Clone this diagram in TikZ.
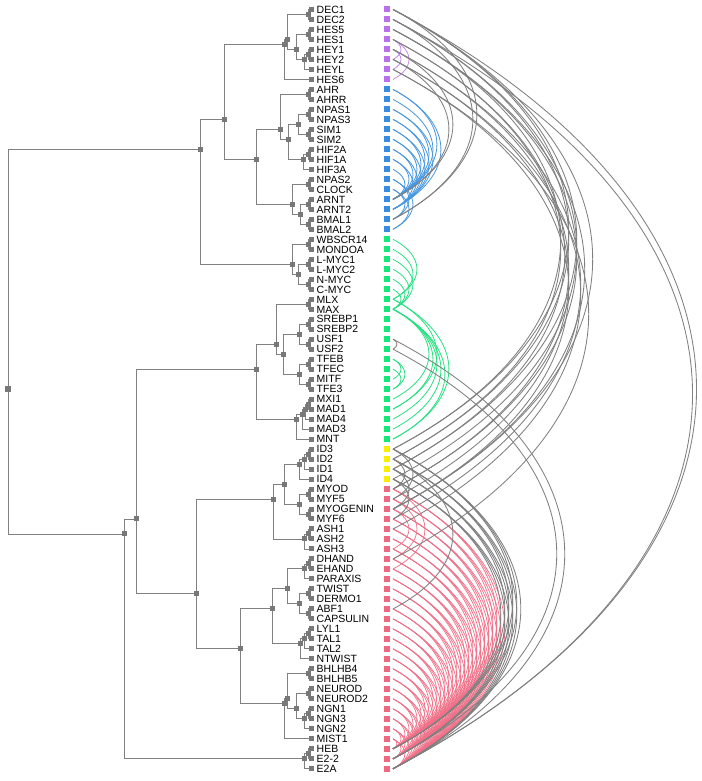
\documentclass[tikz,border=0pt]{standalone}
\usepackage{fontspec}
\setmainfont{Liberation Sans}
\usetikzlibrary{calc,backgrounds}
\definecolor{treegray}{RGB}{128,128,128}
\definecolor{sqgray}{RGB}{120,120,120}
\definecolor{arcgray}{RGB}{128,128,128}
\definecolor{cpur}{RGB}{186,112,238}
\definecolor{cblu}{RGB}{55,140,225}
\definecolor{cgrn}{RGB}{20,232,120}
\definecolor{cyel}{RGB}{250,238,0}
\definecolor{cred}{RGB}{238,104,128}
\definecolor{apur}{RGB}{196,136,240}
\definecolor{ablu}{RGB}{70,150,225}
\definecolor{agrn}{RGB}{40,225,130}
\definecolor{ared}{RGB}{240,112,136}
\newcommand\bharc[3]{%
  \pgfmathsetmacro\bhs{9.99*(#3-#2)}%
  \pgfmathsetmacro\bhcx{0.533*\bhs}%
  \pgfmathsetmacro\bhdy{0.28*\bhs}%
  \draw[#1] (a#2) .. controls ([shift={(\bhcx,\bhdy)}]a#2) and ([shift={(\bhcx,-\bhdy)}]a#3) .. (a#3);}
\newcommand\bhinner[3]{\node[inner] (#1) at (#2,{9.5+9.99*#3}) {};}
\begin{document}
\begin{tikzpicture}[x=1pt,y=-1pt,
  tree/.style={draw=treegray,line width=0.9pt},
  inner/.style={rectangle,fill=sqgray,minimum size=5pt,inner sep=0pt,draw=none},
  lab/.style={anchor=base west,inner sep=0pt,font=\fontsize{10.5}{12}\selectfont},
  csq/.style={rectangle,minimum size=6pt,inner sep=0pt,draw=none},
  garc/.style={draw=arcgray,line width=0.85pt},
  parc/.style={draw=apur,line width=0.8pt},
  barc/.style={draw=ablu,line width=0.8pt},
  narc/.style={draw=agrn,line width=0.8pt},
  rarc/.style={draw=ared,line width=0.7pt}]
\useasboundingbox (0,0) rectangle (701,781);

% leaves
\foreach \i/\nm/\cl in {0/DEC1/cpur,1/DEC2/cpur,2/HES5/cpur,3/HES1/cpur,4/HEY1/cpur,5/HEY2/cpur,6/HEYL/cpur,7/HES6/cpur,
 8/AHR/cblu,9/AHRR/cblu,10/NPAS1/cblu,11/NPAS3/cblu,12/SIM1/cblu,13/SIM2/cblu,14/HIF2A/cblu,15/HIF1A/cblu,16/HIF3A/cblu,17/NPAS2/cblu,18/CLOCK/cblu,19/ARNT/cblu,20/ARNT2/cblu,21/BMAL1/cblu,22/BMAL2/cblu,
 23/WBSCR14/cgrn,24/MONDOA/cgrn,25/L-MYC1/cgrn,26/L-MYC2/cgrn,27/N-MYC/cgrn,28/C-MYC/cgrn,29/MLX/cgrn,30/MAX/cgrn,31/SREBP1/cgrn,32/SREBP2/cgrn,33/USF1/cgrn,34/USF2/cgrn,35/TFEB/cgrn,36/TFEC/cgrn,37/MITF/cgrn,38/TFE3/cgrn,39/MXI1/cgrn,40/MAD1/cgrn,41/MAD4/cgrn,42/MAD3/cgrn,43/MNT/cgrn,
 44/ID3/cyel,45/ID2/cyel,46/ID1/cyel,47/ID4/cyel,
 48/MYOD/cred,49/MYF5/cred,50/MYOGENIN/cred,51/MYF6/cred,52/ASH1/cred,53/ASH2/cred,54/ASH3/cred,55/DHAND/cred,56/EHAND/cred,57/PARAXIS/cred,58/TWIST/cred,59/DERMO1/cred,60/ABF1/cred,61/CAPSULIN/cred,62/LYL1/cred,63/TAL1/cred,64/TAL2/cred,65/NTWIST/cred,66/BHLHB4/cred,67/BHLHB5/cred,68/NEUROD/cred,69/NEUROD2/cred,70/NGN1/cred,71/NGN3/cred,72/NGN2/cred,73/MIST1/cred,74/HEB/cred,75/E2-2/cred,76/E2A/cred}{
  \node[inner] (l\i) at (311,{9.5+9.99*\i}) {};
  \node[lab] (t\i) at (316.5,{9.5+9.99*\i+3.8}) {\nm};
  \node[csq,fill=\cl] (c\i) at (387,{9.5+9.99*\i}) {};
  \coordinate (a\i) at (393,{9.5+9.99*\i});
}

% internal nodes
\node[inner,minimum size=6pt] (root) at (8,{9.5+9.99*38}) {};
\bhinner{U}{200}{14} \bhinner{A}{224}{11} \bhinner{P}{284}{3.5} \bhinner{P1}{287}{3}
\bhinner{DEC}{308}{0.5} \bhinner{P2}{296}{4} \bhinner{HES}{308}{2.5} \bhinner{HEY}{304}{5} \bhinner{HEY12}{308}{4.5}
\bhinner{B}{256}{15} \bhinner{B1}{280}{12} \bhinner{AH}{308}{8.5} \bhinner{B3}{288}{13} \bhinner{B4}{298}{11.5}
\bhinner{NP}{308}{10.5} \bhinner{SI}{308}{12.5} \bhinner{HIF}{303}{15} \bhinner{HF}{308}{14.5}
\bhinner{B2}{292}{19.5} \bhinner{CL}{308}{17.5} \bhinner{B5}{300}{20.5} \bhinner{AR}{308}{19.5} \bhinner{BM}{308}{21.5}
\bhinner{MY}{292}{25.5} \bhinner{MO}{308}{23.5} \bhinner{MY1}{298}{26.5} \bhinner{LM}{308}{25.5} \bhinner{NC}{308}{27.5}
\bhinner{L}{124}{52.5} \bhinner{L1}{136}{51} \bhinner{G}{256}{36} \bhinner{G1}{276}{33.5} \bhinner{MX}{308}{29.5}
\bhinner{G3}{283}{34.5} \bhinner{G4}{299}{32.5} \bhinner{SR}{308}{31.5} \bhinner{US}{308}{33.5}
\bhinner{G5}{299}{36.5} \bhinner{TF}{308}{35.5} \bhinner{MT}{308}{37.5}
\bhinner{G2}{296}{41} \bhinner{G6}{302}{40.5} \bhinner{G7}{305}{40} \bhinner{G8}{308}{39.5}
\bhinner{R}{196}{58.5} \bhinner{R1}{273}{49} \bhinner{R3}{284}{47.5} \bhinner{ID}{299}{45.5} \bhinner{ID1}{304}{45} \bhinner{ID2}{308}{44.5}
\bhinner{MD}{299}{49.5} \bhinner{MD1}{308}{48.5} \bhinner{MD2}{308}{50.5} \bhinner{AS}{304}{53} \bhinner{AS1}{308}{52.5}
\bhinner{R2}{240}{64} \bhinner{R4}{272}{60} \bhinner{R6}{287}{58} \bhinner{HA}{304}{56} \bhinner{HA1}{308}{55.5}
\bhinner{TW}{299}{59.5} \bhinner{TW1}{308}{58.5} \bhinner{TW2}{308}{60.5}
\bhinner{LY}{300}{63.5} \bhinner{LY1}{304}{63} \bhinner{LY2}{308}{62.5}
\bhinner{R5}{284}{69.5} \bhinner{R7}{287}{69} \bhinner{BH}{308}{66.5} \bhinner{R8}{296}{70} \bhinner{ND}{308}{68.5}
\bhinner{NG}{304}{71} \bhinner{NG1}{308}{70.5} \bhinner{E}{304}{75} \bhinner{E1}{308}{74.5}

\begin{pgfonlayer}{background}
\fill[white] (0,0) rectangle (701,781);
\foreach \p/\c in {root/U,root/L,U/A,U/MY,A/P,A/B,P/P1,P/l7,P1/DEC,P1/P2,DEC/l0,DEC/l1,P2/HES,P2/HEY,HES/l2,HES/l3,HEY/HEY12,HEY/l6,HEY12/l4,HEY12/l5,
 B/B1,B/B2,B1/AH,B1/B3,AH/l8,AH/l9,B3/B4,B3/HIF,B4/NP,B4/SI,NP/l10,NP/l11,SI/l12,SI/l13,HIF/HF,HIF/l16,HF/l14,HF/l15,
 B2/CL,B2/B5,CL/l17,CL/l18,B5/AR,B5/BM,AR/l19,AR/l20,BM/l21,BM/l22,
 MY/MO,MY/MY1,MO/l23,MO/l24,MY1/LM,MY1/NC,LM/l25,LM/l26,NC/l27,NC/l28,
 L/L1,L/E,L1/G,L1/R,G/G1,G/G2,G1/MX,G1/G3,MX/l29,MX/l30,G3/G4,G3/G5,G4/SR,G4/US,SR/l31,SR/l32,US/l33,US/l34,
 G5/TF,G5/MT,TF/l35,TF/l36,MT/l37,MT/l38,G2/G6,G2/l43,G6/G7,G6/l42,G7/G8,G7/l41,G8/l39,G8/l40,
 R/R1,R/R2,R1/R3,R1/AS,R3/ID,R3/MD,ID/ID1,ID/l47,ID1/ID2,ID1/l46,ID2/l44,ID2/l45,
 MD/MD1,MD/MD2,MD1/l48,MD1/l49,MD2/l50,MD2/l51,AS/AS1,AS/l54,AS1/l52,AS1/l53,
 R2/R4,R2/R5,R4/R6,R4/LY,R6/HA,R6/TW,HA/HA1,HA/l57,HA1/l55,HA1/l56,
 TW/TW1,TW/TW2,TW1/l58,TW1/l59,TW2/l60,TW2/l61,LY/LY1,LY/l65,LY1/LY2,LY1/l64,LY2/l62,LY2/l63,
 R5/R7,R5/l73,R7/BH,R7/R8,BH/l66,BH/l67,R8/ND,R8/NG,ND/l68,ND/l69,NG/NG1,NG/l72,NG1/l70,NG1/l71,
 E/E1,E/l76,E1/l74,E1/l75}{
  \draw[tree] (\p.center) |- (\c.center);
}
% arcs
\foreach \p in {48,...,73}{\foreach \q in {74,75,76}{\bharc{rarc}{\p}{\q}}}
\foreach \a/\b in {48/56,49/55,50/54}{\bharc{rarc}{\a}{\b}}
\foreach \a/\b in {3/7,4/6,3/5}{\bharc{parc}{\a}{\b}}
\foreach \a/\b in {8/19,8/20,9/19,10/19,10/20,11/19,11/20,12/19,12/20,13/19,13/20,14/19,14/20,15/19,15/20,16/19,17/21,17/22,18/21,18/22}{\bharc{barc}{\a}{\b}}
\foreach \a/\b in {23/29,24/29,25/30,26/30,27/30,28/30,29/40,29/43,30/39,30/40,30/41,30/42,30/43,35/37,35/38,36/38}{\bharc{narc}{\a}{\b}}
\foreach \a/\b in {0/76,1/76,0/21,1/21,4/19,5/19,0/44,0/46,1/45,1/47,2/44,2/48,3/45,3/46,4/48,5/49,6/50,4/51,5/52,6/55,2/50,0/50,
 33/34,33/76,34/75,44/74,44/75,44/76,45/74,45/75,45/76,46/74,46/75,46/76,47/74,47/75,47/76,44/49,45/48,46/50,47/51,45/60}{\bharc{garc}{\a}{\b}}
\end{pgfonlayer}
\end{tikzpicture}
\end{document}
